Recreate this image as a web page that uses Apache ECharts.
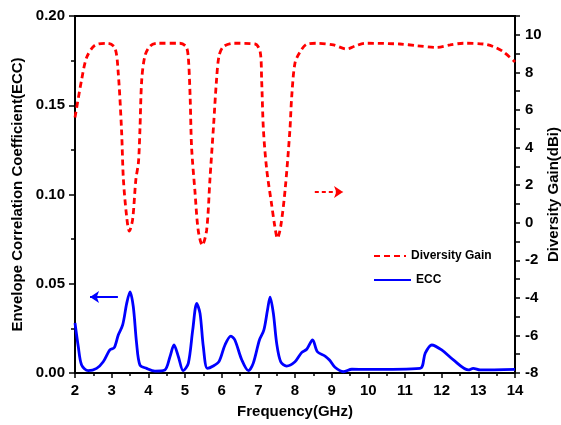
<!DOCTYPE html>
<html>
<head>
<meta charset="utf-8">
<script src="https://cdn.jsdelivr.net/npm/echarts@6/dist/echarts.min.js"></script>
<style>html,body{margin:0;padding:0;background:#fff;}#c{width:561px;height:425px;}</style>
</head>
<body>
<div id="c"></div>
<script>
// Diversity Gain (dBi) vs frequency (GHz)
const dgFreq = [2.0,2.18,2.32,2.55,2.9,3.09,3.18,3.27,3.32,3.41,3.48,3.57,3.66,3.73,3.77,3.82,3.91,4.05,4.23,4.86,5.03,5.09,5.14,5.18,5.27,5.36,5.47,5.59,5.68,5.78,5.86,5.93,6.05,6.32,6.91,7.05,7.09,7.14,7.23,7.36,7.45,7.52,7.61,7.73,7.86,7.91,8.0,8.14,8.32,8.59,9.05,9.41,9.64,9.91,10.86,11.32,11.86,12.23,12.59,13.14,13.41,13.68,14.0];
const dgValues = [5.6,7.6,8.8,9.45,9.55,9.3,7.95,4.9,2.3,0.3,-0.45,0.15,2.3,3.2,4.9,7.6,8.9,9.4,9.55,9.55,9.37,8.8,6.7,4.0,1.7,-0.4,-1.2,-0.4,2.3,5.2,7.6,8.9,9.37,9.55,9.51,9.1,7.6,4.9,2.8,1.0,-0.2,-0.83,-0.2,1.74,4.9,6.7,8.5,9.1,9.5,9.55,9.46,9.24,9.4,9.55,9.51,9.42,9.33,9.46,9.55,9.51,9.37,9.1,8.55];
// ECC vs frequency (GHz)
const eccFreq = [2.0,2.09,2.18,2.36,2.59,2.77,2.95,3.07,3.18,3.3,3.41,3.5,3.59,3.68,3.77,3.95,4.18,4.45,4.59,4.7,4.82,4.95,5.09,5.21,5.32,5.41,5.5,5.61,5.77,5.93,6.09,6.25,6.36,6.55,6.73,6.86,7.03,7.15,7.25,7.32,7.41,7.5,7.61,7.77,8.0,8.18,8.32,8.48,8.61,8.82,8.94,9.09,9.32,9.55,9.95,11.41,11.55,11.73,12.0,12.32,12.73,12.86,13.05,14.0];
const eccValues = [0.028,0.0147,0.0045,0.0013,0.0026,0.0063,0.0129,0.0142,0.0213,0.0269,0.039,0.0455,0.0371,0.0166,0.0045,0.0026,0.0011,0.0017,0.0091,0.0157,0.0091,0.0013,0.0054,0.024,0.039,0.0334,0.0147,0.0026,0.0039,0.0065,0.0157,0.0207,0.0185,0.0073,0.0013,0.0054,0.0185,0.024,0.0353,0.0425,0.0334,0.0166,0.0063,0.0039,0.0063,0.0114,0.0133,0.0185,0.0119,0.0095,0.0073,0.0032,0.0007,0.0021,0.002,0.0026,0.011,0.0157,0.0129,0.0073,0.0017,0.0026,0.0017,0.002];
const eccTicks = [0, 0.05, 0.10, 0.15, 0.20];
const dgTicks = [-8,-6,-4,-2,0,2,4,6,8,10];

const FONT = '"Liberation Sans", Arial, sans-serif';
const lab = {color:'#000', fontFamily:FONT, fontWeight:'bold', fontSize:15};
const legText = {color:'#000',fontFamily:FONT,fontWeight:'bold',fontSize:12};
const noSym = {color:'rgba(0,0,0,0)',borderColor:'rgba(0,0,0,0)',borderWidth:0};
const chart = echarts.init(document.getElementById('c'), null, {renderer:'canvas'});
chart.setOption({
  animation:false,
  backgroundColor:'#fff',
  grid:{left:75,right:46,top:16,bottom:52,show:true,borderColor:'#000',borderWidth:2,
        containLabel:false,outerBoundsMode:'none'},
  legend:[
    {data:['Diversity Gain'],left:368,top:245,itemWidth:32,itemHeight:14,itemStyle:noSym,textStyle:legText},
    {data:['ECC'],left:368,top:269,itemWidth:37,itemHeight:14,itemStyle:noSym,textStyle:legText}
  ],
  xAxis:{type:'value',min:2,max:14,interval:1,
    name:'Frequency(GHz)',nameLocation:'middle',nameGap:31,nameMoveOverlap:false,nameTextStyle:lab,
    axisLine:{lineStyle:{color:'#000',width:2}},
    axisTick:{show:true,inside:false,length:5,lineStyle:{color:'#000',width:1.5}},
    minorTick:{show:true,splitNumber:2,length:3,lineStyle:{color:'#000',width:1.5}},
    splitLine:{show:false},
    axisLabel:Object.assign({margin:10},lab)},
  yAxis:[
    {type:'value',min:0,max:0.2,interval:0.05,position:'left',
     name:'Envelope Correlation Coefficient(ECC)',nameLocation:'middle',nameGap:50,nameMoveOverlap:false,nameTextStyle:lab,
     axisLine:{show:true,lineStyle:{color:'#000',width:2}},
     axisTick:{show:true,length:6,lineStyle:{color:'#000',width:1.5}},
     minorTick:{show:true,splitNumber:2,length:4,lineStyle:{color:'#000',width:1.5}},
     splitLine:{show:false},
     axisLabel:Object.assign({margin:10,formatter:v=>{const t=eccTicks.find(x=>Math.abs(x-v)<1e-9);return t===undefined?'':t.toFixed(2);}},lab)},
    {type:'value',min:-8,max:11,interval:1,position:'right',
     name:'Diversity Gain(dBi)',nameLocation:'middle',nameGap:31,nameRotate:90,nameMoveOverlap:false,nameTextStyle:lab,
     axisLine:{show:true,lineStyle:{color:'#000',width:2}},
     axisTick:{show:true,length:5,lineStyle:{color:'#000',width:1.5}},
     splitLine:{show:false},
     axisLabel:Object.assign({margin:10,formatter:v=>dgTicks.indexOf(Math.round(v))>=0&&Math.abs(v-Math.round(v))<1e-9?String(Math.round(v)):''},lab)}
  ],
  series:[
    {name:'Diversity Gain',type:'line',yAxisIndex:1,smooth:0.3,symbol:'none',
     data:dgFreq.map((f,i)=>[f,dgValues[i]]),
     lineStyle:{color:'#ff0000',width:2.8,type:[6,4]},itemStyle:{color:'#ff0000'},
     markLine:{silent:true,symbol:['none','arrow'],symbolSize:[9,9],label:{show:false},
       lineStyle:{color:'#ff0000',width:2,type:[4,3]},
       data:[[{coord:[8.54,1.63]},{coord:[9.31,1.63]}]]}},
    {name:'ECC',type:'line',yAxisIndex:0,smooth:0.3,symbol:'none',
     data:eccFreq.map((f,i)=>[f,eccValues[i]]),
     lineStyle:{color:'#0000ff',width:2.8},itemStyle:{color:'#0000ff'},
     markLine:{silent:true,symbol:['none','arrow'],symbolSize:[9,9],label:{show:false},
       lineStyle:{color:'#0000ff',width:2,type:'solid'},
       data:[[{coord:[3.17,0.0426]},{coord:[2.41,0.0426]}]]}}
  ]
});
</script>
</body>
</html>
